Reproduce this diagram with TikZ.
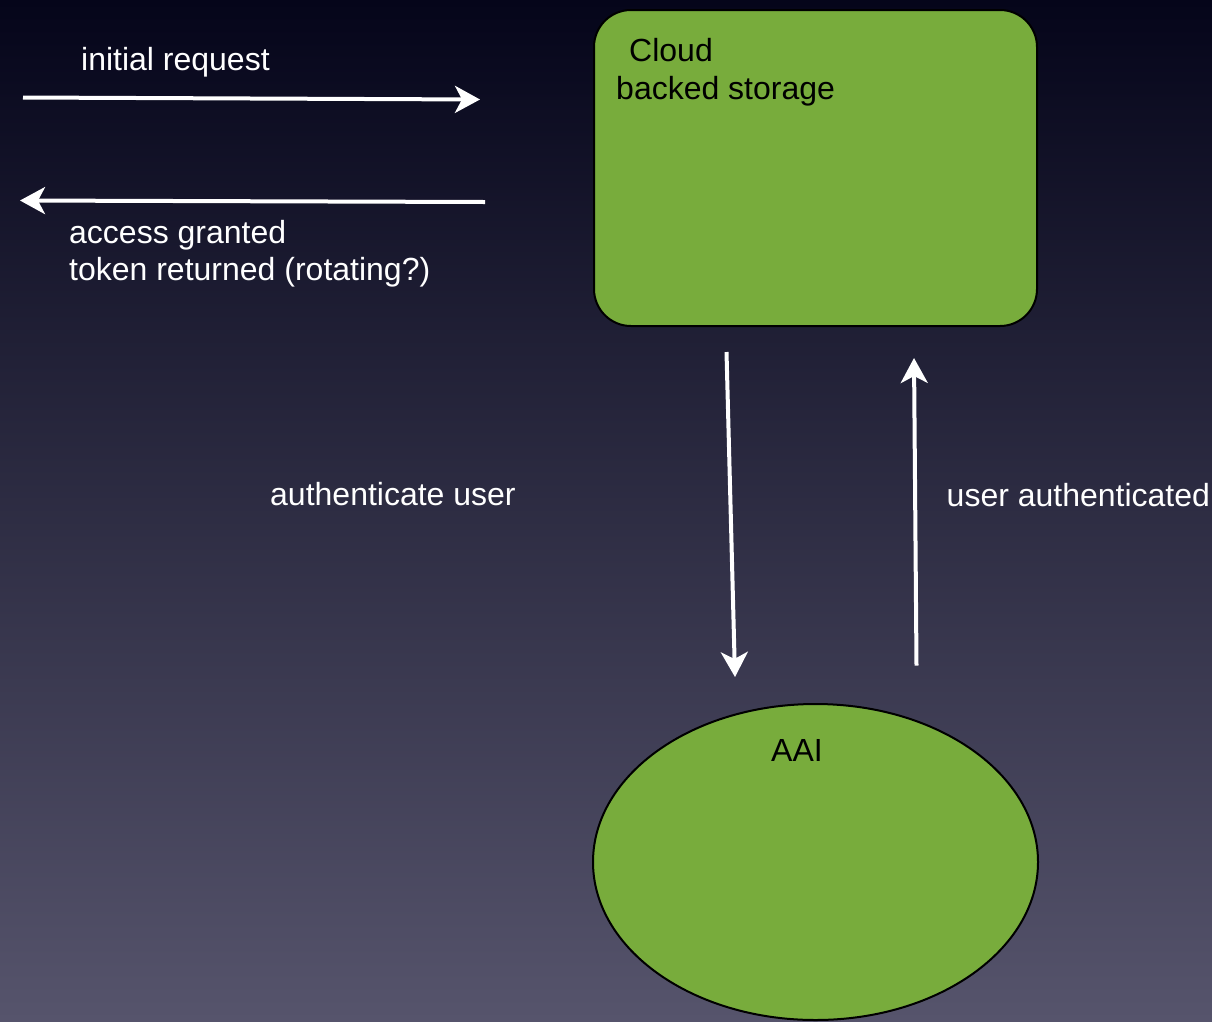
\documentclass[tikz,border=0pt]{standalone}
\usepackage{fontspec}
\setmainfont{Liberation Sans}
\usetikzlibrary{arrows.meta,shapes.geometric}
\definecolor{bgtop}{HTML}{05051A}
\definecolor{bgmid}{HTML}{25253F}
\definecolor{bgbot}{HTML}{56546C}
\definecolor{boxgreen}{HTML}{78AC3C}
\tikzset{
  lbl/.style={anchor=base west, inner sep=0pt, text=white, font=\fontsize{32}{38}\selectfont},
  dlbl/.style={anchor=base west, inner sep=0pt, text=black, font=\fontsize{32}{38}\selectfont},
  flow/.style={draw=white, line width=4pt, -{Stealth[length=25pt, width=27pt, inset=7pt]}},
  greenshape/.style={draw=black, line width=2pt, fill=boxgreen}
}
\begin{document}
\begin{tikzpicture}[x=1pt,y=-1pt]
\useasboundingbox (0,0) rectangle (1212,1021);
\shade[top color=bgtop, middle color=bgmid, bottom color=bgbot] (0,0) rectangle (1212,1021);

\node[greenshape, rectangle, rounded corners=37pt, minimum width=443pt, minimum height=316pt] (cloud) at (815.5,168) {};
\node[greenshape, ellipse, minimum width=445pt, minimum height=316pt, inner sep=0pt] (aai) at (815.5,862) {};

\node[dlbl] (cloudt1) at (629,61) {Cloud};
\node[dlbl] (cloudt2) at (616,99.5) {backed storage};
\node[dlbl] (aait) at (771,761) {AAI};

\node[lbl] (req) at (81,70) {initial request};
\node[lbl] (acc1) at (69,243.5) {access granted};
\node[lbl] (acc2) at (69,280.5) {token returned (rotating?)};
\node[lbl] (authu) at (270,505) {authenticate user};
\node[lbl] (usera) at (946.5,506.5) {user authenticated};

\coordinate (r1s) at (23,97.5);
\coordinate (r1e) at (480,99.5);
\coordinate (r2s) at (485,202);
\coordinate (r2e) at (20,200.5);
\coordinate (d1s) at (726.5,352);
\coordinate (d1e) at (735,677);
\coordinate (u1s) at (916.5,665.5);
\coordinate (u1e) at (914,358);

\draw[flow] (r1s) -- (r1e);
\draw[flow] (r2s) -- (r2e);
\draw[flow] (d1s) -- (d1e);
\draw[flow] (u1s) -- (u1e);
\end{tikzpicture}
\end{document}
